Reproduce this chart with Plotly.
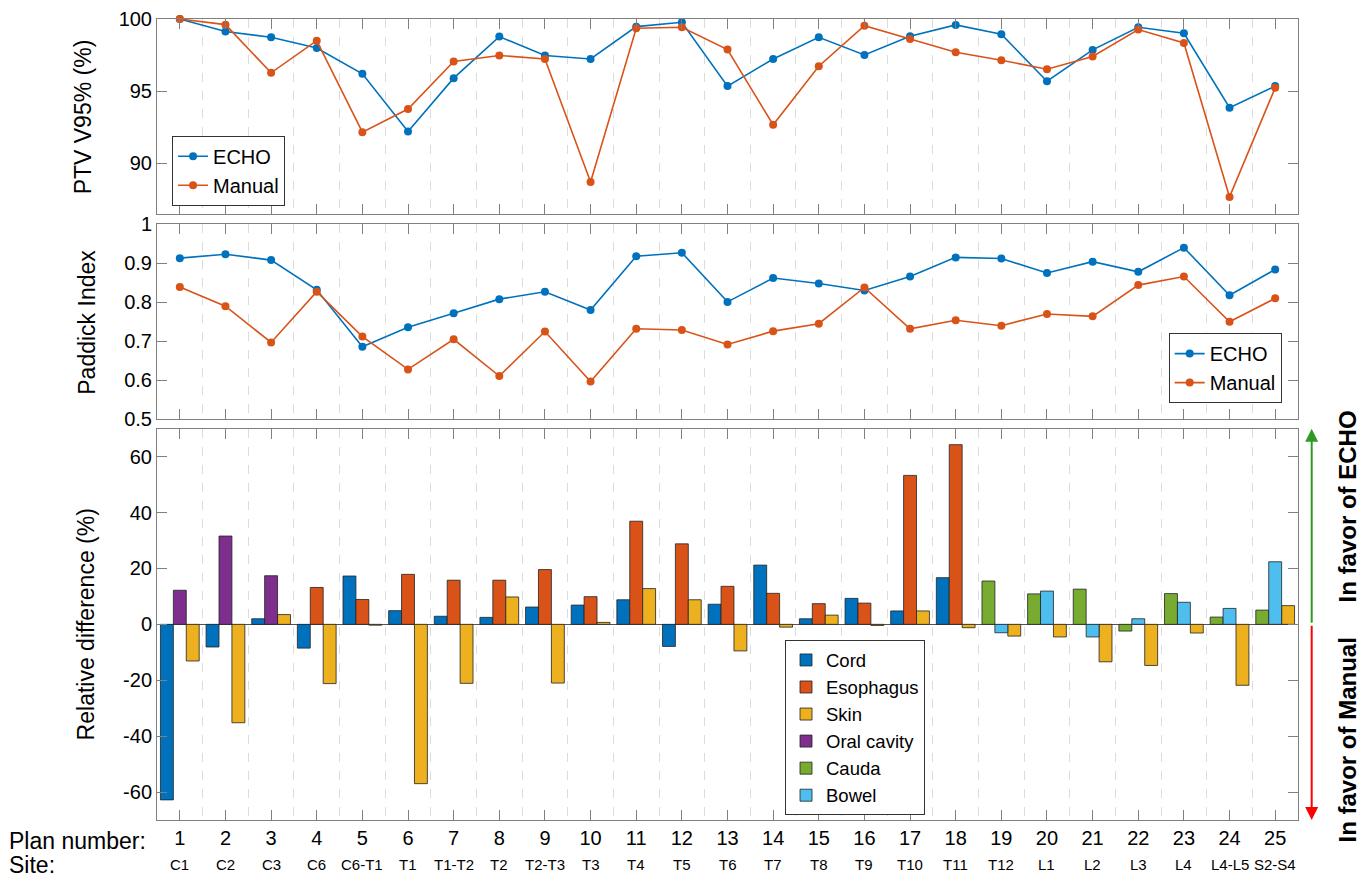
import plotly.graph_objects as go

# ---------------- data ----------------
plans = list(range(1, 26))
plan_labels = [str(p) for p in plans]
sites = ["C1", "C2", "C3", "C6", "C6-T1", "T1", "T1-T2", "T2", "T2-T3", "T3",
         "T4", "T5", "T6", "T7", "T8", "T9", "T10", "T11", "T12", "L1",
         "L2", "L3", "L4", "L4-L5", "S2-S4"]

ptv_echo = [100.0, 99.13, 98.73, 97.99, 96.2, 92.2, 95.9, 98.78, 97.47, 97.23,
            99.47, 99.77, 95.35, 97.23, 98.73, 97.51, 98.8, 99.59, 98.94, 95.69,
            97.86, 99.43, 99.01, 93.85, 95.35]
ptv_manual = [100.0, 99.61, 96.27, 98.5, 92.16, 93.76, 97.05, 97.47, 97.23, 88.71,
              99.36, 99.43, 97.88, 92.67, 96.73, 99.54, 98.62, 97.70, 97.14, 96.52,
              97.40, 99.27, 98.34, 87.67, 95.23]

pi_echo = [0.913, 0.923, 0.908, 0.832, 0.686, 0.736, 0.772, 0.808, 0.827, 0.780,
           0.918, 0.927, 0.801, 0.862, 0.848, 0.830, 0.866, 0.915, 0.912, 0.875,
           0.904, 0.878, 0.940, 0.818, 0.884]
pi_manual = [0.839, 0.790, 0.697, 0.827, 0.712, 0.628, 0.705, 0.611, 0.725, 0.597,
             0.732, 0.729, 0.692, 0.726, 0.745, 0.838, 0.732, 0.754, 0.740, 0.770,
             0.764, 0.844, 0.866, 0.750, 0.810]

cord_plans = list(range(1, 19))
cord = [-62.8, -8.1, 2.0, -8.5, 17.3, 4.9, 2.9, 2.5, 6.2, 6.9,
        8.8, -7.9, 7.2, 21.2, 2.0, 9.3, 4.8, 16.7]
oral_plans = [1, 2, 3]
oral = [12.2, 31.6, 17.4]
eso_plans = list(range(4, 19))
eso = [13.2, 8.9, 17.9, 15.8, 15.8, 19.6, 9.9, 36.9, 28.8, 13.6,
       11.1, 7.4, 7.6, 53.3, 64.3]
skin_plans = list(range(1, 26))
skin = [-13.1, -35.2, 3.5, -21.2, -0.3, -57.0, -21.1, 9.8, -21.0, 0.7,
        12.8, 8.8, -9.5, -1.0, 3.3, -0.4, 4.8, -1.2, -4.2, -4.5,
        -13.4, -14.7, -3.1, -21.8, 6.7]
cauda_plans = list(range(19, 26))
cauda = [15.5, 10.9, 12.6, -2.4, 11.0, 2.6, 5.1]
bowel_plans = list(range(19, 26))
bowel = [-3.0, 11.9, -4.5, 2.0, 7.9, 5.7, 22.4]

# ---------------- style ----------------
C_BLUE = "#0072BD"
C_ORANGE = "#D95319"
C_YELLOW = "#EDB120"
C_PURPLE = "#7E2F8E"
C_GREEN = "#77AC30"
C_CYAN = "#4DBEEE"
AX = "#808080"
FONT = "Liberation Sans, Arial, sans-serif"

BW = 0.283
OFF_L, OFF_M, OFF_R = -1.5 * BW, -0.5 * BW, 0.5 * BW

DOM1 = [0.7568, 1.0]
DOM2 = [0.5002, 0.7438]
DOM3 = [0.0, 0.4885]

fig = go.Figure()

# top panel
fig.add_trace(go.Scatter(x=plans, y=ptv_echo, name="ECHO", mode="lines+markers",
                         line=dict(color=C_BLUE, width=1.6), marker=dict(size=8, color=C_BLUE),
                         xaxis="x", yaxis="y", legend="legend", cliponaxis=False))
fig.add_trace(go.Scatter(x=plans, y=ptv_manual, name="Manual", mode="lines+markers",
                         line=dict(color=C_ORANGE, width=1.6), marker=dict(size=8, color=C_ORANGE),
                         xaxis="x", yaxis="y", legend="legend", cliponaxis=False))
# middle panel
fig.add_trace(go.Scatter(x=plans, y=pi_echo, name="ECHO", mode="lines+markers",
                         line=dict(color=C_BLUE, width=1.6), marker=dict(size=8, color=C_BLUE),
                         xaxis="x2", yaxis="y2", legend="legend2", cliponaxis=False))
fig.add_trace(go.Scatter(x=plans, y=pi_manual, name="Manual", mode="lines+markers",
                         line=dict(color=C_ORANGE, width=1.6), marker=dict(size=8, color=C_ORANGE),
                         xaxis="x2", yaxis="y2", legend="legend2", cliponaxis=False))

# bottom panel bars
def bar(xs, ys, name, color, off):
    return go.Bar(x=xs, y=ys, name=name, offset=off, width=BW,
                  marker=dict(color=color, line=dict(color="#222222", width=0.8)),
                  xaxis="x3", yaxis="y3", legend="legend3")

fig.add_trace(bar(cord_plans, cord, "Cord", C_BLUE, OFF_L))
fig.add_trace(bar(eso_plans, eso, "Esophagus", C_ORANGE, OFF_M))
fig.add_trace(bar(skin_plans, skin, "Skin", C_YELLOW, OFF_R))
fig.add_trace(bar(oral_plans, oral, "Oral cavity", C_PURPLE, OFF_M))
fig.add_trace(bar(cauda_plans, cauda, "Cauda", C_GREEN, OFF_L))
fig.add_trace(bar(bowel_plans, bowel, "Bowel", C_CYAN, OFF_M))

grid_vals = [p + 0.5 for p in plans[:-1]]

def xax(anchor, show_labels):
    return dict(range=[0.5, 25.5], anchor=anchor, tickmode="array", tickvals=plans,
                ticktext=plan_labels, showticklabels=show_labels, automargin=False,
                ticks="inside", ticklen=10, tickcolor=AX, tickwidth=1,
                showline=True, linecolor=AX, linewidth=1, mirror="ticks",
                showgrid=False, zeroline=False, ticklabeloverflow="allow",
                tickfont=dict(size=20, color="#000"),
                minor=dict(tickmode="array", tickvals=grid_vals, showgrid=True,
                           gridcolor="#dcdcdc", griddash="dash", gridwidth=1, ticks=""))

def yax(dom, rng, tickvals, ticktext, anchor):
    return dict(domain=dom, range=rng, anchor=anchor, tickmode="array",
                tickvals=tickvals, ticktext=ticktext, automargin=False,
                ticks="inside", ticklen=10, tickcolor=AX, tickwidth=1,
                showline=True, linecolor=AX, linewidth=1, mirror="ticks",
                showgrid=False, zeroline=False, ticklabeloverflow="allow",
                tickfont=dict(size=20, color="#000"))

# page body adds an 8px offset; figure is sized to fill the rest of the window
fig.update_layout(
    width=1358, height=870,
    margin=dict(l=149, r=68, t=11, b=58),
    paper_bgcolor="white", plot_bgcolor="white",
    font=dict(family=FONT, color="#000"),
    barmode="overlay",
    xaxis=xax("y", False),
    xaxis2=xax("y2", False),
    xaxis3=xax("y3", True),
    yaxis=yax(DOM1, [86.5, 100], [90, 95, 100], ["90", "95", "100"], "x"),
    yaxis2=yax(DOM2, [0.5, 1.0], [0.5, 0.6, 0.7, 0.8, 0.9, 1.0],
               ["0.5", "0.6", "0.7", "0.8", "0.9", "1"], "x2"),
    yaxis3=yax(DOM3, [-70, 70], [-60, -40, -20, 0, 20, 40, 60],
               ["-60", "-40", "-20", "0", "20", "40", "60"], "x3"),
    legend=dict(x=0.0132, y=0.8543, xanchor="left", yanchor="top",
                bgcolor="white", bordercolor="#333333", borderwidth=1,
                font=dict(size=20, color="#000")),
    legend2=dict(x=0.9857, y=0.5205, xanchor="right", yanchor="bottom",
                 bgcolor="white", bordercolor="#333333", borderwidth=1,
                 font=dict(size=20, color="#000")),
    legend3=dict(x=0.5504, y=0.2242, xanchor="left", yanchor="top",
                 bgcolor="white", bordercolor="#333333", borderwidth=1,
                 font=dict(size=18.5, color="#000"), traceorder="normal"),
)

# zero line of the bar panel
fig.update_layout(yaxis3=dict(zeroline=True, zerolinecolor="#555555", zerolinewidth=1))

annotations = []
# y axis titles
for title, dom, xp in [("PTV V95% (%)", DOM1, -0.0649),
                       ("Paddick Index", DOM2, -0.0614),
                       ("Relative difference (%)", DOM3, -0.0622)]:
    annotations.append(dict(xref="paper", yref="paper", x=xp, y=(dom[0] + dom[1]) / 2,
                            xanchor="center", yanchor="middle", textangle=-90,
                            text=title, showarrow=False, font=dict(size=23, color="#000")))
# arrows at right
annotations.append(dict(xref="paper", yref="y3", x=1.012, y=70, axref="pixel", ax=0,
                        ayref="y3", ay=0, showarrow=True, arrowhead=2, arrowsize=1.3,
                        arrowwidth=2, arrowcolor="#2e9a22", text=""))
annotations.append(dict(xref="paper", yref="y3", x=1.012, y=-70, axref="pixel", ax=0,
                        ayref="y3", ay=0, showarrow=True, arrowhead=2, arrowsize=1.3,
                        arrowwidth=2, arrowcolor="#ff0000", text=""))
annotations.append(dict(xref="paper", yref="paper", x=1.0435, y=0.391, textangle=-90,
                        xanchor="center", yanchor="middle",
                        text="<b>In favor of ECHO</b>", showarrow=False,
                        font=dict(size=24, color="#000")))
annotations.append(dict(xref="paper", yref="paper", x=1.0435, y=0.100, textangle=-90,
                        xanchor="center", yanchor="middle",
                        text="<b>In favor of Manual</b>", showarrow=False,
                        font=dict(size=24, color="#000")))
# row labels
annotations.append(dict(xref="paper", yref="paper", x=-0.1315, y=-0.0262, xanchor="left",
                        yanchor="middle", text="Plan number:", showarrow=False,
                        font=dict(size=23, color="#000")))
annotations.append(dict(xref="paper", yref="paper", x=-0.1315, y=-0.056, xanchor="left",
                        yanchor="middle", text="Site:", showarrow=False,
                        font=dict(size=23, color="#000")))
for p, s in zip(plans, sites):
    annotations.append(dict(xref="x3", yref="paper", x=p, y=-0.056, xanchor="center",
                            yanchor="middle", text=s, showarrow=False,
                            font=dict(size=15, color="#000")))
fig.update_layout(annotations=annotations)

fig.write_html("out.html")
